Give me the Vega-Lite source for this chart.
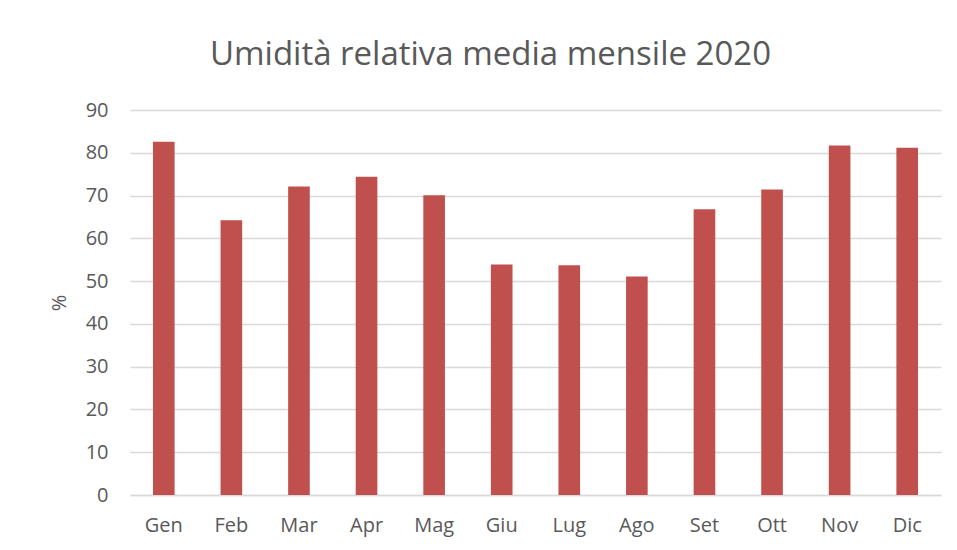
{
  "$schema": "https://vega.github.io/schema/vega-lite/v6.json",
  "autosize": {"type": "none"},
  "width": 811,
  "height": 385,
  "padding": {"left": 130, "top": 110, "right": 16, "bottom": 55},
  "background": "white",
  "title": {
    "text": "Umidità relativa media mensile 2020",
    "font": "Open Sans",
    "fontSize": 33,
    "fontWeight": "normal",
    "color": "#595959",
    "anchor": "middle",
    "dx": -45,
    "offset": 28
  },
  "data": {
    "values": [
      {"mese": "Gen", "umidita": 82.6},
      {"mese": "Feb", "umidita": 64.2},
      {"mese": "Mar", "umidita": 72.1},
      {"mese": "Apr", "umidita": 74.4},
      {"mese": "Mag", "umidita": 70.1},
      {"mese": "Giu", "umidita": 53.9},
      {"mese": "Lug", "umidita": 53.7},
      {"mese": "Ago", "umidita": 51.1},
      {"mese": "Set", "umidita": 66.8},
      {"mese": "Ott", "umidita": 71.4},
      {"mese": "Nov", "umidita": 81.7},
      {"mese": "Dic", "umidita": 81.2}
    ]
  },
  "mark": {"type": "bar", "color": "#c0504d"},
  "encoding": {
    "x": {
      "field": "mese",
      "type": "nominal",
      "sort": null,
      "scale": {"paddingInner": 0.68, "paddingOuter": 0.34},
      "axis": {
        "title": null,
        "labelAngle": 0,
        "ticks": false,
        "domainColor": "#d9d9d9",
        "domainWidth": 1.5,
        "labelFont": "Open Sans",
        "labelFontSize": 20,
        "labelColor": "#595959",
        "labelPadding": 20
      }
    },
    "y": {
      "field": "umidita",
      "type": "quantitative",
      "scale": {"domain": [0, 90]},
      "axis": {
        "title": "%",
        "titleFont": "Open Sans",
        "titleFontSize": 20,
        "titleFontWeight": "normal",
        "titleColor": "#595959",
        "titlePadding": 16,
        "values": [0, 10, 20, 30, 40, 50, 60, 70, 80, 90],
        "ticks": false,
        "domain": false,
        "gridColor": "#d9d9d9",
        "gridWidth": 1.5,
        "labelFont": "Open Sans",
        "labelFontSize": 20,
        "labelColor": "#595959",
        "labelPadding": 22
      }
    }
  },
  "config": {"view": {"stroke": null}}
}
